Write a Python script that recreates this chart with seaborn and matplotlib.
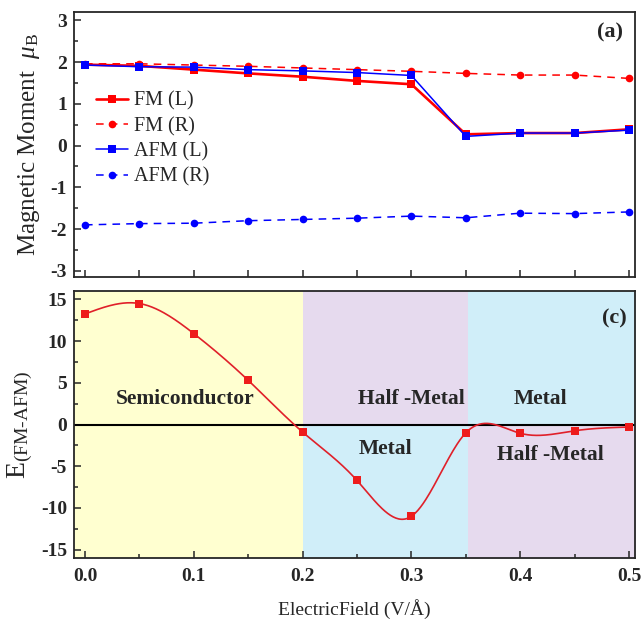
import numpy as np
import pandas as pd
import matplotlib
matplotlib.use('Agg')
import matplotlib.pyplot as plt
from matplotlib.ticker import MultipleLocator
import seaborn as sns

# electric field values (V/A)
field = [0.0, 0.05, 0.10, 0.15, 0.20, 0.25, 0.30, 0.35, 0.40, 0.45, 0.50]

# panel (a) magnetic moments
fm_l = [1.94, 1.91, 1.82, 1.73, 1.65, 1.55, 1.47, 0.27, 0.30, 0.30, 0.39]
fm_r = [1.96, 1.96, 1.93, 1.90, 1.86, 1.82, 1.78, 1.73, 1.69, 1.69, 1.61]
afm_l = [1.93, 1.89, 1.88, 1.82, 1.79, 1.75, 1.68, 0.22, 0.30, 0.30, 0.37]
afm_r = [-1.90, -1.87, -1.86, -1.80, -1.77, -1.74, -1.69, -1.73, -1.62, -1.63, -1.59]

# panel (c) energy difference
e_diff = [13.25, 14.5, 10.9, 5.3, -0.9, -6.7, -11.0, -1.0, -1.05, -0.75, -0.3]

# region labels: (text, x, y)
regions_txt = [('Semiconductor', 0.092, 3.0), ('Half -Metal', 0.300, 3.0),
               ('Metal', 0.419, 3.0), ('Metal', 0.276, -2.9),
               ('Half -Metal', 0.428, -3.6)]

yellow = '#FFFFD0'
purple = '#E6DAEE'
blue = '#D0EEF9'


def natural_spline(x, y, xs):
    x = np.asarray(x, float)
    y = np.asarray(y, float)
    n = len(x)
    h = np.diff(x)
    A = np.zeros((n, n))
    r = np.zeros(n)
    A[0, 0] = A[-1, -1] = 1
    for i in range(1, n - 1):
        A[i, i - 1] = h[i - 1]
        A[i, i] = 2 * (h[i - 1] + h[i])
        A[i, i + 1] = h[i]
        r[i] = 6 * ((y[i + 1] - y[i]) / h[i] - (y[i] - y[i - 1]) / h[i - 1])
    M = np.linalg.solve(A, r)
    idx = np.clip(np.searchsorted(x, xs) - 1, 0, n - 2)
    x0, x1 = x[idx], x[idx + 1]
    hh = x1 - x0
    a = (x1 - xs) / hh
    b = (xs - x0) / hh
    return (a * y[idx] + b * y[idx + 1]
            + ((a ** 3 - a) * M[idx] + (b ** 3 - b) * M[idx + 1]) * hh ** 2 / 6)


sns.set_style('ticks')
plt.rcParams['font.family'] = ['Liberation Serif', 'DejaVu Serif']
plt.rcParams['axes.unicode_minus'] = False
plt.rcParams['mathtext.fontset'] = 'custom'
plt.rcParams['mathtext.rm'] = 'Liberation Serif'
plt.rcParams['mathtext.it'] = 'Liberation Serif:italic'
plt.rcParams['mathtext.bf'] = 'Liberation Serif:bold'

fig = plt.figure(figsize=(6.41, 6.21), dpi=100)
ax1 = fig.add_axes([0.1154, 0.5539, 0.8752, 0.4267])
ax2 = fig.add_axes([0.1154, 0.1014, 0.8752, 0.4300])

# ---- panel (a)
df = pd.DataFrame({'field': field, 'FM (L)': fm_l, 'FM (R)': fm_r,
                   'AFM (L)': afm_l, 'AFM (R)': afm_r})
sns.lineplot(data=df, x='field', y='FM (L)', ax=ax1, color='#FF0000', lw=1.9,
             marker='s', markersize=6, markeredgewidth=0, label='FM (L)')
sns.lineplot(data=df, x='field', y='FM (R)', ax=ax1, color='#FF0000', lw=1.1,
             marker='o', markersize=5.5, markeredgewidth=0, dashes=(5, 4),
             label='FM (R)')
sns.lineplot(data=df, x='field', y='AFM (L)', ax=ax1, color='#0000FF', lw=1.1,
             marker='s', markersize=6, markeredgewidth=0, label='AFM (L)')
sns.lineplot(data=df, x='field', y='AFM (R)', ax=ax1, color='#0000FF', lw=1.1,
             marker='o', markersize=5.5, markeredgewidth=0, dashes=(5, 4),
             label='AFM (R)')
ax1.set_xlim(-0.0101, 0.5055)
ax1.set_ylim(-3.15, 3.2)
ax1.yaxis.set_major_locator(MultipleLocator(1))
ax1.yaxis.set_minor_locator(MultipleLocator(0.5))
ax1.xaxis.set_major_locator(MultipleLocator(0.05))
ax1.set_xticklabels([])
ax1.set_xlabel('')
ax1.set_ylabel(r'Magnetic Moment  $\mu_{\mathrm{B}}$', fontsize=18, labelpad=6)
ax1.legend(loc='upper left', bbox_to_anchor=(0.025, 0.73), frameon=False,
           fontsize=14.5, labelspacing=0.3, handlelength=1.6, handletextpad=0.3,
           borderaxespad=0)
ax1.text(0.4825, 2.72, '(a)', fontsize=16, fontweight='bold',
         ha='center', va='center')

# ---- panel (c)
ax2.axvspan(-0.02, 0.2, color=yellow, lw=0, zorder=0)
ax2.fill_between([0.2, 0.352], 0, 20, color=purple, lw=0, zorder=0)
ax2.fill_between([0.2, 0.352], -20, 0, color=blue, lw=0, zorder=0)
ax2.fill_between([0.352, 0.52], 0, 20, color=blue, lw=0, zorder=0)
ax2.fill_between([0.352, 0.52], -20, 0, color=purple, lw=0, zorder=0)
ax2.axhline(0, color='black', lw=1.5, zorder=1)

xs = np.linspace(field[0], field[-1], 400)
sns.lineplot(x=xs, y=natural_spline(field, e_diff, xs), ax=ax2,
             color='#E0202A', lw=1.2, zorder=2)
sns.scatterplot(x=field, y=e_diff, ax=ax2, color='#EE1C1C', marker='s',
                s=30, linewidth=0, zorder=3)
for txt, x, y in regions_txt:
    ax2.text(x, y, txt, fontsize=15.5, fontweight='bold', ha='center', va='center')
ax2.text(0.487, 12.7, '(c)', fontsize=16, fontweight='bold',
         ha='center', va='center')
ax2.set_xlim(-0.0101, 0.5055)
ax2.set_ylim(-16, 16)
ax2.yaxis.set_major_locator(MultipleLocator(5))
ax2.yaxis.set_minor_locator(MultipleLocator(2.5))
ax2.xaxis.set_major_locator(MultipleLocator(0.1))
ax2.xaxis.set_minor_locator(MultipleLocator(0.05))
ax2.xaxis.set_major_formatter(matplotlib.ticker.FormatStrFormatter('%.1f'))
ax2.set_ylabel('E$_{\\mathrm{(FM‐AFM)}}$', fontsize=20, labelpad=4)
ax2.set_xlabel('ElectricField (V/Å)', fontsize=14, labelpad=10)

for ax in (ax1, ax2):
    for sp in ax.spines.values():
        sp.set_linewidth(1.3)
        sp.set_visible(True)
        sp.set_zorder(5)
    ax.tick_params(which='both', direction='in', width=1.1, labelsize=14, pad=5)
    ax.tick_params(which='major', length=5)
    ax.tick_params(which='minor', length=3)
    for lab in ax.get_xticklabels() + ax.get_yticklabels():
        lab.set_fontweight('bold')
ax2.tick_params(axis='x', which='both', pad=7)

fig.savefig('out.png', dpi=100)
